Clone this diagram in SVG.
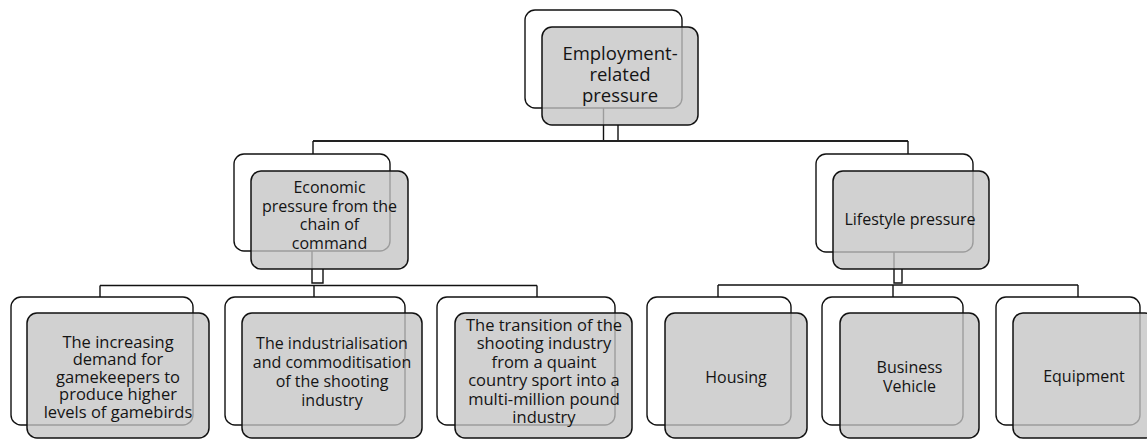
<svg xmlns="http://www.w3.org/2000/svg" width="1147" height="439" viewBox="0 0 1147 439">
  <style>
    .back { fill: #ffffff; stroke: #111111; stroke-width: 1.4; }
    .front { fill: #c4c4c4; fill-opacity: 0.78; stroke: #111111; stroke-width: 1.5; }
    .wire { fill: none; stroke: #111111; stroke-width: 1.4; }
    .bar { fill: none; stroke: #222222; stroke-width: 2.2; }
    text { font-family: "Open Sans", "Liberation Sans", sans-serif; font-size: 16px; fill: #141414; text-anchor: middle; }
    .big { font-size: 18.5px; }
    .mid { font-size: 16.5px; }
  </style>

  <!-- back layer of every card -->
  <g id="back-cards">
    <rect class="back" x="525" y="10" width="157" height="98" rx="10"/>
    <rect class="back" x="234" y="154" width="156" height="97" rx="10"/>
    <rect class="back" x="816" y="154" width="157" height="98" rx="10"/>
    <rect class="back" x="11" y="297" width="182" height="128" rx="10"/>
    <rect class="back" x="225" y="297" width="180" height="128" rx="10"/>
    <rect class="back" x="437" y="297" width="178" height="128" rx="10"/>
    <rect class="back" x="647" y="297" width="144" height="128" rx="10"/>
    <rect class="back" x="822" y="297" width="141" height="128" rx="10"/>
    <rect class="back" x="996" y="297" width="144" height="128" rx="10"/>
  </g>

  <!-- connectors -->
  <g id="connectors">
    <!-- root stem and branch bar -->
    <path class="wire" d="M603.5,108 V141 H618 V125"/>
    <path class="bar" d="M313,141 H908"/>
    <path class="wire" d="M313,141 V154 M908,141 V154"/>
    <!-- economic pressure stem and children -->
    <path class="wire" d="M312,251 V283 H323 V269"/>
    <path class="wire" d="M100,285.5 H537 M100,285.5 V297 M314,285.5 V297 M537,285.5 V297"/>
    <!-- lifestyle pressure stem and children -->
    <path class="wire" d="M894,252 V283 H902 V269"/>
    <path class="wire" d="M718,285 H1078 M718,285 V297 M893,285 V297 M1078,285 V297"/>
  </g>

  <g id="node-employment">
    <rect class="front" x="542" y="27" width="156" height="98" rx="10"/>
    <text class="big" x="620" y="59.5">Employment-</text>
    <text class="big" x="620" y="80.5">related</text>
    <text class="big" x="620" y="101.5">pressure</text>
  </g>

  <g id="node-economic">
    <rect class="front" x="251" y="171" width="157" height="98" rx="10"/>
    <text x="329.5" y="193">Economic</text>
    <text x="329.5" y="211.5">pressure from the</text>
    <text x="329.5" y="230">chain of</text>
    <text x="329.5" y="248.5">command</text>
  </g>

  <g id="node-lifestyle">
    <rect class="front" x="833" y="171" width="156" height="98" rx="10"/>
    <text x="910" y="225">Lifestyle pressure</text>
  </g>

  <g id="node-demand">
    <rect class="front" x="27" y="313" width="182" height="125" rx="10"/>
    <text class="mid" x="118" y="347.5">The increasing</text>
    <text class="mid" x="118" y="365">demand for</text>
    <text class="mid" x="118" y="382.5">gamekeepers to</text>
    <text class="mid" x="118" y="400">produce higher</text>
    <text class="mid" x="118" y="417.5">levels of gamebirds</text>
  </g>

  <g id="node-industrialisation">
    <rect class="front" x="242" y="313" width="180" height="125" rx="10"/>
    <text x="332" y="348.5">The industrialisation</text>
    <text x="332" y="367.5">and commoditisation</text>
    <text x="332" y="386.5">of the shooting</text>
    <text x="332" y="405.5">industry</text>
  </g>

  <g id="node-transition">
    <rect class="front" x="455" y="313" width="177" height="125" rx="10"/>
    <text class="mid" x="544" y="330.5">The transition of the</text>
    <text class="mid" x="544" y="349">shooting industry</text>
    <text class="mid" x="544" y="367.5">from a quaint</text>
    <text class="mid" x="544" y="386">country sport into a</text>
    <text class="mid" x="544" y="404.5">multi-million pound</text>
    <text class="mid" x="544" y="423">industry</text>
  </g>

  <g id="node-housing">
    <rect class="front" x="665" y="313" width="142" height="125" rx="10"/>
    <text x="736" y="383">Housing</text>
  </g>

  <g id="node-vehicle">
    <rect class="front" x="840" y="313" width="139" height="125" rx="10"/>
    <text x="909.5" y="373">Business</text>
    <text x="909.5" y="392">Vehicle</text>
  </g>

  <g id="node-equipment">
    <rect class="front" x="1013" y="313" width="142" height="125" rx="10"/>
    <text x="1084" y="382">Equipment</text>
  </g>
</svg>
